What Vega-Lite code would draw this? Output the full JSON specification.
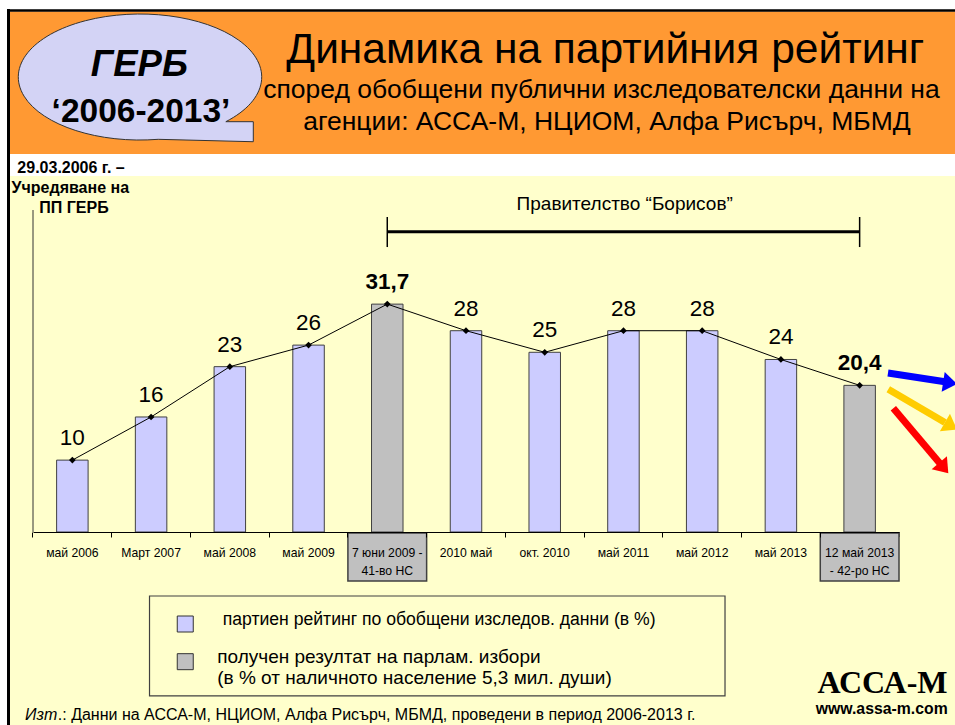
{
  "$schema": "https://vega.github.io/schema/vega-lite/v6.json",
  "width": 866,
  "height": 381,
  "autosize": "none",
  "padding": {"left": 33, "top": 151, "right": 56, "bottom": 193},
  "background": "white",
  "config": {"view": {"stroke": null}, "font": "Liberation Sans"},
  "datasets": {
    "chart": [
      {"cat": "май 2006", "value": 10, "label": "10", "kind": "survey"},
      {"cat": "Март 2007", "value": 16, "label": "16", "kind": "survey"},
      {"cat": "май 2008", "value": 23, "label": "23", "kind": "survey"},
      {"cat": "май 2009", "value": 26, "label": "26", "kind": "survey"},
      {"cat": "7 юни 2009 - 41-во НС", "value": 31.7, "label": "31,7", "kind": "election"},
      {"cat": "2010 май", "value": 28, "label": "28", "kind": "survey"},
      {"cat": "окт. 2010", "value": 25, "label": "25", "kind": "survey"},
      {"cat": "май 2011", "value": 28, "label": "28", "kind": "survey"},
      {"cat": "май 2012", "value": 28, "label": "28", "kind": "survey"},
      {"cat": "май 2013", "value": 24, "label": "24", "kind": "survey"},
      {"cat": "12 май 2013 - 42-ро НС", "value": 20.4, "label": "20,4", "kind": "election"}
    ],
    "one": [{}]
  },
  "resolve": {"scale": {"x": "independent"}},
  "layer": [
    {
      "data": {"name": "one"},
      "mark": {"type": "rect", "fill": "#FFFFCC"},
      "encoding": {
        "x": {"datum": -0.2921, "type": "quantitative", "scale": {"domain": [0, 11], "nice": false, "zero": false}, "axis": null},
        "x2": {"datum": 12.2},
        "y": {"datum": 49.52, "type": "quantitative", "scale": {"domain": [0, 53], "nice": false, "zero": false}, "axis": null},
        "y2": {"datum": -28}
      }
    },
    {
      "data": {"name": "one"},
      "mark": {"type": "rect", "fill": "#FF9933"},
      "encoding": {
        "x": {"datum": -0.2921, "type": "quantitative", "scale": {"domain": [0, 11], "nice": false, "zero": false}, "axis": null},
        "x2": {"datum": 12.2},
        "y": {"datum": 72.4, "type": "quantitative", "axis": null},
        "y2": {"datum": 52.58}
      }
    },
    {
      "data": {"name": "one"},
      "mark": {"type": "rule", "color": "black", "strokeWidth": 3},
      "encoding": {
        "x": {"datum": -0.3112, "type": "quantitative", "scale": {"domain": [0, 11], "nice": false, "zero": false}, "axis": null},
        "y": {"datum": 72.75, "type": "quantitative", "axis": null},
        "y2": {"datum": -28}
      }
    },
    {
      "data": {"name": "one"},
      "mark": {"type": "rule", "color": "black", "strokeWidth": 2.5},
      "encoding": {
        "x": {"datum": -0.33, "type": "quantitative", "scale": {"domain": [0, 11], "nice": false, "zero": false}, "axis": null},
        "x2": {"datum": 12.2},
        "y": {"datum": 72.54, "type": "quantitative", "axis": null}
      }
    },
    {
      "data": {"name": "one"},
      "mark": {"type": "rule", "color": "#333333", "strokeWidth": 1},
      "encoding": {
        "x": {"datum": 0.0001, "type": "quantitative", "scale": {"domain": [0, 11], "nice": false, "zero": false}, "axis": null},
        "y": {"datum": 44.79, "type": "quantitative", "axis": null},
        "y2": {"datum": 0.0001}
      }
    },
    {
      "data": {"name": "one"},
      "mark": {"type": "rule", "color": "black", "strokeWidth": 1},
      "encoding": {
        "x": {"datum": 11, "type": "quantitative", "scale": {"domain": [0, 11], "nice": false, "zero": false}, "axis": null},
        "y": {"datum": 0.0001, "type": "quantitative", "axis": null},
        "y2": {"datum": -0.7}
      }
    },
    {
      "data": {"name": "one"},
      "mark": {
        "type": "point",
        "shape": "M 0.7053 0.367 L 0.931 0.367 L 0.931 0.5316 L 0.15 0.5118 A 1 0.5177 0 1 1 0.7053 0.367 Z",
        "size": 59244,
        "filled": true,
        "fill": "#D3D3F5",
        "stroke": "#333333",
        "strokeWidth": 1,
        "opacity": 1
      },
      "encoding": {
        "x": {"datum": 1.3591, "type": "quantitative", "scale": {"domain": [0, 11], "nice": false, "zero": false}, "axis": null},
        "y": {"datum": 63.29, "type": "quantitative", "axis": null}
      }
    },
    {
      "data": {"name": "chart"},
      "mark": {"type": "bar", "width": {"band": 0.4}, "stroke": "#404040", "strokeWidth": 1},
      "encoding": {
        "x": {
          "field": "cat", "type": "nominal", "sort": null,
          "scale": {
            "domain": ["май 2006", "Март 2007", "май 2008", "май 2009", "7 юни 2009 - 41-во НС", "2010 май", "окт. 2010", "май 2011", "май 2012", "май 2013", "12 май 2013 - 42-ро НС"],
            "paddingInner": 0, "paddingOuter": 0
          },
          "axis": null
        },
        "y": {"field": "value", "type": "quantitative", "axis": null},
        "color": {"field": "kind", "type": "nominal", "scale": {"domain": ["survey", "election"], "range": ["#CCCCFF", "#C0C0C0"]}, "legend": null}
      }
    },
    {
      "data": {"name": "chart"},
      "transform": [{"filter": "datum.kind == 'election'"}],
      "mark": {"type": "rect", "fill": "#C0C0C0", "stroke": "#404040", "strokeWidth": 1.5},
      "encoding": {
        "x": {
          "field": "cat", "type": "nominal", "sort": null,
          "scale": {
            "domain": ["май 2006", "Март 2007", "май 2008", "май 2009", "7 юни 2009 - 41-во НС", "2010 май", "окт. 2010", "май 2011", "май 2012", "май 2013", "12 май 2013 - 42-ро НС"],
            "paddingInner": 0, "paddingOuter": 0
          },
          "axis": {
            "title": null,
            "labelAngle": 0,
            "bandPosition": 0,
            "labelExpr": "datum.label == '7 юни 2009 - 41-во НС' ? ['7 юни 2009 -', '41-во НС'] : datum.label == '12 май 2013 - 42-ро НС' ? ['12 май 2013', '- 42-ро НС'] : datum.label",
            "labelFont": "Liberation Sans",
            "labelFontSize": 12.2,
            "labelColor": "black",
            "labelLineHeight": 18,
            "labelPadding": 9,
            "labelLimit": 0,
            "labelOverlap": false,
            "tickSize": 5,
            "tickColor": "black",
            "domainColor": "black",
            "grid": false,
            "zindex": 1
          }
        },
        "y": {"datum": -0.14, "type": "quantitative", "axis": null},
        "y2": {"datum": -6.82}
      }
    },
    {
      "data": {"name": "chart"},
      "mark": {"type": "line", "color": "black", "strokeWidth": 1},
      "encoding": {
        "x": {
          "field": "cat", "type": "nominal", "sort": null,
          "scale": {
            "domain": ["май 2006", "Март 2007", "май 2008", "май 2009", "7 юни 2009 - 41-во НС", "2010 май", "окт. 2010", "май 2011", "май 2012", "май 2013", "12 май 2013 - 42-ро НС"],
            "paddingInner": 0, "paddingOuter": 0
          },
          "axis": null
        },
        "y": {"field": "value", "type": "quantitative", "axis": null}
      }
    },
    {
      "data": {"name": "chart"},
      "mark": {"type": "point", "shape": "diamond", "filled": true, "color": "black", "size": 45, "opacity": 1},
      "encoding": {
        "x": {
          "field": "cat", "type": "nominal", "sort": null,
          "scale": {
            "domain": ["май 2006", "Март 2007", "май 2008", "май 2009", "7 юни 2009 - 41-во НС", "2010 май", "окт. 2010", "май 2011", "май 2012", "май 2013", "12 май 2013 - 42-ро НС"],
            "paddingInner": 0, "paddingOuter": 0
          },
          "axis": null
        },
        "y": {"field": "value", "type": "quantitative", "axis": null}
      }
    },
    {
      "data": {"name": "chart"},
      "transform": [{"filter": "datum.kind == 'survey'"}],
      "mark": {"type": "text", "baseline": "alphabetic", "dy": -15, "fontSize": 22.5, "color": "black"},
      "encoding": {
        "x": {
          "field": "cat", "type": "nominal", "sort": null,
          "scale": {
            "domain": ["май 2006", "Март 2007", "май 2008", "май 2009", "7 юни 2009 - 41-во НС", "2010 май", "окт. 2010", "май 2011", "май 2012", "май 2013", "12 май 2013 - 42-ро НС"],
            "paddingInner": 0, "paddingOuter": 0
          },
          "axis": null
        },
        "y": {"field": "value", "type": "quantitative", "axis": null},
        "text": {"field": "label"}
      }
    },
    {
      "data": {"name": "chart"},
      "transform": [{"filter": "datum.kind == 'election'"}],
      "mark": {"type": "text", "baseline": "alphabetic", "dy": -15, "fontSize": 22.5, "fontWeight": "bold", "color": "black"},
      "encoding": {
        "x": {
          "field": "cat", "type": "nominal", "sort": null,
          "scale": {
            "domain": ["май 2006", "Март 2007", "май 2008", "май 2009", "7 юни 2009 - 41-во НС", "2010 май", "окт. 2010", "май 2011", "май 2012", "май 2013", "12 май 2013 - 42-ро НС"],
            "paddingInner": 0, "paddingOuter": 0
          },
          "axis": null
        },
        "y": {"field": "value", "type": "quantitative", "axis": null},
        "text": {"field": "label"}
      }
    },
    {
      "data": {"name": "one"},
      "mark": {"type": "rule", "color": "black", "strokeWidth": 3},
      "encoding": {
        "x": {"datum": 4.5, "type": "quantitative", "scale": {"domain": [0, 11], "nice": false, "zero": false}, "axis": null},
        "x2": {"datum": 10.5},
        "y": {"datum": 41.77, "type": "quantitative", "axis": null}
      }
    },
    {
      "data": {"name": "one"},
      "mark": {"type": "rule", "color": "black", "strokeWidth": 1.5},
      "encoding": {
        "x": {"datum": 4.5, "type": "quantitative", "scale": {"domain": [0, 11], "nice": false, "zero": false}, "axis": null},
        "y": {"datum": 43.82, "type": "quantitative", "axis": null},
        "y2": {"datum": 39.64}
      }
    },
    {
      "data": {"name": "one"},
      "mark": {"type": "rule", "color": "black", "strokeWidth": 1.5},
      "encoding": {
        "x": {"datum": 10.5, "type": "quantitative", "scale": {"domain": [0, 11], "nice": false, "zero": false}, "axis": null},
        "y": {"datum": 43.82, "type": "quantitative", "axis": null},
        "y2": {"datum": 39.64}
      }
    },
    {
      "data": {"name": "one"},
      "mark": {"type": "text", "text": "Динамика на партийния рейтинг", "fontSize": 42.5, "align": "center", "baseline": "alphabetic", "color": "black"},
      "encoding": {
        "x": {"datum": 7.27, "type": "quantitative", "scale": {"domain": [0, 11], "nice": false, "zero": false}, "axis": null},
        "y": {"datum": 65.24, "type": "quantitative", "axis": null}
      }
    },
    {
      "data": {"name": "one"},
      "mark": {"type": "text", "text": "според обобщени публични изследователски данни на", "fontSize": 26.5, "align": "center", "baseline": "alphabetic", "color": "black"},
      "encoding": {
        "x": {"datum": 7.22, "type": "quantitative", "scale": {"domain": [0, 11], "nice": false, "zero": false}, "axis": null},
        "y": {"datum": 60.37, "type": "quantitative", "axis": null}
      }
    },
    {
      "data": {"name": "one"},
      "mark": {"type": "text", "text": "агенции: АССА-М, НЦИОМ, Алфа Рисърч, МБМД", "fontSize": 26.5, "align": "center", "baseline": "alphabetic", "color": "black"},
      "encoding": {
        "x": {"datum": 7.29, "type": "quantitative", "scale": {"domain": [0, 11], "nice": false, "zero": false}, "axis": null},
        "y": {"datum": 55.92, "type": "quantitative", "axis": null}
      }
    },
    {
      "data": {"name": "one"},
      "mark": {"type": "text", "text": "ГЕРБ", "fontSize": 36.5, "fontWeight": "bold", "fontStyle": "italic", "align": "center", "baseline": "alphabetic", "color": "black"},
      "encoding": {
        "x": {"datum": 1.35, "type": "quantitative", "scale": {"domain": [0, 11], "nice": false, "zero": false}, "axis": null},
        "y": {"datum": 63.43, "type": "quantitative", "axis": null}
      }
    },
    {
      "data": {"name": "one"},
      "mark": {"type": "text", "text": "‘2006-2013’", "fontSize": 33.5, "fontWeight": "bold", "align": "center", "baseline": "alphabetic", "color": "black"},
      "encoding": {
        "x": {"datum": 1.372, "type": "quantitative", "scale": {"domain": [0, 11], "nice": false, "zero": false}, "axis": null},
        "y": {"datum": 57.07, "type": "quantitative", "axis": null}
      }
    },
    {
      "data": {"name": "one"},
      "mark": {"type": "text", "text": "29.03.2006 г. –", "fontSize": 16, "fontWeight": "bold", "align": "center", "baseline": "alphabetic", "color": "black"},
      "encoding": {
        "x": {"datum": 0.483, "type": "quantitative", "scale": {"domain": [0, 11], "nice": false, "zero": false}, "axis": null},
        "y": {"datum": 49.9, "type": "quantitative", "axis": null}
      }
    },
    {
      "data": {"name": "one"},
      "mark": {"type": "text", "text": "Учредяване на", "fontSize": 16, "fontWeight": "bold", "align": "center", "baseline": "alphabetic", "color": "black"},
      "encoding": {
        "x": {"datum": 0.474, "type": "quantitative", "scale": {"domain": [0, 11], "nice": false, "zero": false}, "axis": null},
        "y": {"datum": 47.12, "type": "quantitative", "axis": null}
      }
    },
    {
      "data": {"name": "one"},
      "mark": {"type": "text", "text": "ПП ГЕРБ", "fontSize": 16, "fontWeight": "bold", "align": "center", "baseline": "alphabetic", "color": "black"},
      "encoding": {
        "x": {"datum": 0.52, "type": "quantitative", "scale": {"domain": [0, 11], "nice": false, "zero": false}, "axis": null},
        "y": {"datum": 44.4, "type": "quantitative", "axis": null}
      }
    },
    {
      "data": {"name": "one"},
      "mark": {"type": "text", "text": "Правителство “Борисов”", "fontSize": 19, "align": "center", "baseline": "alphabetic", "color": "black"},
      "encoding": {
        "x": {"datum": 7.516, "type": "quantitative", "scale": {"domain": [0, 11], "nice": false, "zero": false}, "axis": null},
        "y": {"datum": 44.79, "type": "quantitative", "axis": null}
      }
    },
    {
      "data": {"name": "one"},
      "mark": {"type": "rect", "fill": "#FFFFCC", "fillOpacity": 0, "stroke": "#404040", "strokeWidth": 1.2},
      "encoding": {
        "x": {"datum": 1.48, "type": "quantitative", "scale": {"domain": [0, 11], "nice": false, "zero": false}, "axis": null},
        "x2": {"datum": 8.79},
        "y": {"datum": -8.9, "type": "quantitative", "axis": null},
        "y2": {"datum": -22.81}
      }
    },
    {
      "data": {"name": "one"},
      "mark": {"type": "point", "shape": "square", "size": 256, "filled": true, "fill": "#CCCCFF", "stroke": "#333333", "strokeWidth": 1, "opacity": 1},
      "encoding": {
        "x": {"datum": 1.934, "type": "quantitative", "scale": {"domain": [0, 11], "nice": false, "zero": false}, "axis": null},
        "y": {"datum": -12.8, "type": "quantitative", "axis": null}
      }
    },
    {
      "data": {"name": "one"},
      "mark": {"type": "point", "shape": "square", "size": 256, "filled": true, "fill": "#C0C0C0", "stroke": "#333333", "strokeWidth": 1, "opacity": 1},
      "encoding": {
        "x": {"datum": 1.934, "type": "quantitative", "scale": {"domain": [0, 11], "nice": false, "zero": false}, "axis": null},
        "y": {"datum": -18.04, "type": "quantitative", "axis": null}
      }
    },
    {
      "data": {"name": "one"},
      "mark": {"type": "text", "text": "партиен рейтинг по обобщени изследов. данни (в %)", "fontSize": 17.6, "align": "left", "baseline": "middle", "color": "black"},
      "encoding": {
        "x": {"datum": 2.41, "type": "quantitative", "scale": {"domain": [0, 11], "nice": false, "zero": false}, "axis": null},
        "y": {"datum": -12.24, "type": "quantitative", "axis": null}
      }
    },
    {
      "data": {"name": "one"},
      "mark": {"type": "text", "text": "получен резултат на парлам. избори", "fontSize": 19, "align": "left", "baseline": "middle", "color": "black"},
      "encoding": {
        "x": {"datum": 2.34, "type": "quantitative", "scale": {"domain": [0, 11], "nice": false, "zero": false}, "axis": null},
        "y": {"datum": -17.35, "type": "quantitative", "axis": null}
      }
    },
    {
      "data": {"name": "one"},
      "mark": {"type": "text", "text": "(в % от наличното население 5,3 мил. души)", "fontSize": 19, "align": "left", "baseline": "middle", "color": "black"},
      "encoding": {
        "x": {"datum": 2.34, "type": "quantitative", "scale": {"domain": [0, 11], "nice": false, "zero": false}, "axis": null},
        "y": {"datum": -20.35, "type": "quantitative", "axis": null}
      }
    },
    {
      "data": {"name": "one"},
      "mark": {"type": "text", "text": "Изт", "fontSize": 16, "fontStyle": "italic", "align": "left", "baseline": "middle", "color": "black"},
      "encoding": {
        "x": {"datum": -0.1016, "type": "quantitative", "scale": {"domain": [0, 11], "nice": false, "zero": false}, "axis": null},
        "y": {"datum": -25.46, "type": "quantitative", "axis": null}
      }
    },
    {
      "data": {"name": "one"},
      "mark": {"type": "text", "text": ".: Данни на АССА-М, НЦИОМ, Алфа Рисърч, МБМД, проведени в период 2006-2013 г.", "fontSize": 16, "align": "left", "baseline": "middle", "color": "black"},
      "encoding": {
        "x": {"datum": 0.315, "type": "quantitative", "scale": {"domain": [0, 11], "nice": false, "zero": false}, "axis": null},
        "y": {"datum": -25.46, "type": "quantitative", "axis": null}
      }
    },
    {
      "data": {"name": "one"},
      "mark": {"type": "text", "text": "АССА-М", "font": "Liberation Serif", "fontSize": 32, "fontWeight": "bold", "align": "center", "baseline": "alphabetic", "color": "black"},
      "encoding": {
        "x": {"datum": 10.79, "type": "quantitative", "scale": {"domain": [0, 11], "nice": false, "zero": false}, "axis": null},
        "y": {"datum": -22.44, "type": "quantitative", "axis": null}
      }
    },
    {
      "data": {"name": "one"},
      "mark": {"type": "text", "text": "www.assa-m.com", "fontSize": 15.8, "fontWeight": "bold", "align": "center", "baseline": "alphabetic", "color": "black"},
      "encoding": {
        "x": {"datum": 10.78, "type": "quantitative", "scale": {"domain": [0, 11], "nice": false, "zero": false}, "axis": null},
        "y": {"datum": -25.32, "type": "quantitative", "axis": null}
      }
    },
    {
      "data": {"name": "one"},
      "mark": {"type": "rule", "color": "#0000FF", "strokeWidth": 7},
      "encoding": {
        "x": {"datum": 10.86, "type": "quantitative", "scale": {"domain": [0, 11], "nice": false, "zero": false}, "axis": null},
        "x2": {"datum": 11.584},
        "y": {"datum": 22.12, "type": "quantitative", "axis": null},
        "y2": {"datum": 20.89}
      }
    },
    {
      "data": {"name": "one"},
      "mark": {"type": "point", "shape": "M -0.7 -1 L 0.7 0 L -0.7 1 Z", "size": 400, "angle": 8.74, "filled": true, "fill": "#0000FF", "strokeWidth": 0, "opacity": 1},
      "encoding": {
        "x": {"datum": 11.649, "type": "quantitative", "scale": {"domain": [0, 11], "nice": false, "zero": false}, "axis": null},
        "y": {"datum": 20.74, "type": "quantitative", "axis": null}
      }
    },
    {
      "data": {"name": "one"},
      "mark": {"type": "rule", "color": "#FFCC00", "strokeWidth": 7},
      "encoding": {
        "x": {"datum": 10.864, "type": "quantitative", "scale": {"domain": [0, 11], "nice": false, "zero": false}, "axis": null},
        "x2": {"datum": 11.584},
        "y": {"datum": 19.85, "type": "quantitative", "axis": null},
        "y2": {"datum": 15.23}
      }
    },
    {
      "data": {"name": "one"},
      "mark": {"type": "point", "shape": "M -0.7 -1 L 0.7 0 L -0.7 1 Z", "size": 400, "angle": 30.3, "filled": true, "fill": "#FFCC00", "strokeWidth": 0, "opacity": 1},
      "encoding": {
        "x": {"datum": 11.66, "type": "quantitative", "scale": {"domain": [0, 11], "nice": false, "zero": false}, "axis": null},
        "y": {"datum": 14.74, "type": "quantitative", "axis": null}
      }
    },
    {
      "data": {"name": "one"},
      "mark": {"type": "rule", "color": "#FF0000", "strokeWidth": 7},
      "encoding": {
        "x": {"datum": 10.928, "type": "quantitative", "scale": {"domain": [0, 11], "nice": false, "zero": false}, "axis": null},
        "x2": {"datum": 11.521},
        "y": {"datum": 17.21, "type": "quantitative", "axis": null},
        "y2": {"datum": 9.53}
      }
    },
    {
      "data": {"name": "one"},
      "mark": {"type": "point", "shape": "M -0.7 -1 L 0.7 0 L -0.7 1 Z", "size": 400, "angle": 49.8, "filled": true, "fill": "#FF0000", "strokeWidth": 0, "opacity": 1},
      "encoding": {
        "x": {"datum": 11.569, "type": "quantitative", "scale": {"domain": [0, 11], "nice": false, "zero": false}, "axis": null},
        "y": {"datum": 8.9, "type": "quantitative", "axis": null}
      }
    }
  ]
}
